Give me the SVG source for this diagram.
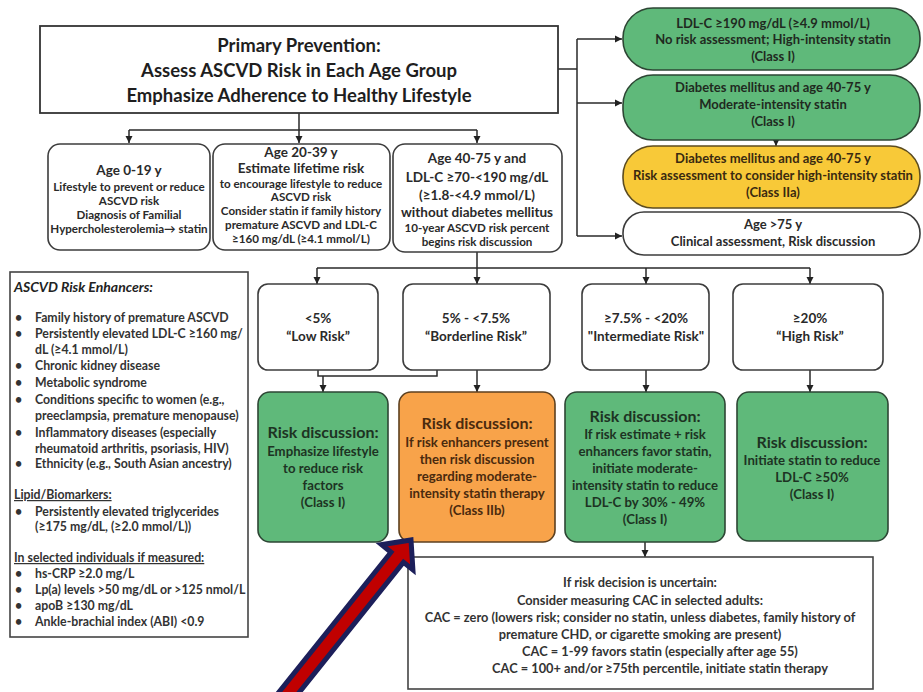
<svg xmlns="http://www.w3.org/2000/svg" width="923" height="692" viewBox="0 0 923 692">
<defs>
<marker id="ah" markerWidth="8" markerHeight="8" refX="7" refY="4" orient="auto" markerUnits="userSpaceOnUse"><path d="M0,0.5 L7,4 L0,7.5 z" fill="#222"/></marker>
<style>
.b{fill:#fff;stroke:#3c3c3c;stroke-width:1.6}
.g{fill:#5fb97a;stroke:#2d4634;stroke-width:1.6}
.o{fill:#f8a34a;stroke:#5c4020;stroke-width:1.6}
.y{fill:#f8c938;stroke:#5c4c20;stroke-width:1.6}
.c{fill:none;stroke:#2a2a2a;stroke-width:1.5}
text{font-family:Lato,"Liberation Sans",sans-serif;font-weight:bold;fill:#2a2a2a;text-anchor:middle}
.ttl{font-size:18.5px;fill:#1e1e1e}
.p{font-size:13px;fill:#1f2a1f}
.h{font-size:13.5px}
.s{font-size:11.6px}
.r{font-size:13.5px}
.rh{font-size:16px;fill:#1d3323}
.rb{font-size:13.2px;fill:#1d3323}
.ob{fill:#4a2a0e}
.l{text-anchor:start;font-size:12.3px;fill:#333}
.cac{font-size:12.8px;fill:#333}
</style>
</defs>
<rect width="923" height="692" fill="#fff"/>

<g id="connectors">
<path class="c" d="M299,113 V130 M129,130 H477"/>
<path class="c" d="M129,130 V143" marker-end="url(#ah)"/>
<path class="c" d="M299,130 V143" marker-end="url(#ah)"/>
<path class="c" d="M477,130 V143" marker-end="url(#ah)"/>
<path class="c" d="M558,69 H577 M577,39 V236"/>
<path class="c" d="M577,39 H622" marker-end="url(#ah)"/>
<path class="c" d="M577,103 H622" marker-end="url(#ah)"/>
<path class="c" d="M577,236 H622" marker-end="url(#ah)"/>
<path class="c" d="M776,140 V146" marker-end="url(#ah)"/>
<path class="c" d="M477,252 V268 M317,268 H810"/>
<path class="c" d="M317,268 V284" marker-end="url(#ah)"/>
<path class="c" d="M477,268 V284" marker-end="url(#ah)"/>
<path class="c" d="M646,268 V284" marker-end="url(#ah)"/>
<path class="c" d="M810,268 V284" marker-end="url(#ah)"/>
<path class="c" d="M318,370 V376 H437 V370"/>
<path class="c" d="M323,376 V392" marker-end="url(#ah)"/>
<path class="c" d="M477,370 V392" marker-end="url(#ah)"/>
<path class="c" d="M646,370 V392" marker-end="url(#ah)"/>
<path class="c" d="M810,370 V392" marker-end="url(#ah)"/>
<path class="c" d="M645,542 V557" marker-end="url(#ah)"/>
</g>

<g id="title">
<rect x="40" y="26" width="518" height="87" fill="#fff" stroke="#333" stroke-width="1.8"/>
<text class="ttl" x="299" y="52">Primary Prevention:</text>
<text class="ttl" x="299" y="77">Assess ASCVD Risk in Each Age Group</text>
<text class="ttl" x="299" y="102">Emphasize Adherence to Healthy Lifestyle</text>
</g>

<g id="pill-ldl190">
<rect class="g" x="623" y="8" width="297" height="62" rx="30"/>
<text class="p" x="773" y="28">LDL-C ≥190 mg/dL (≥4.9 mmol/L)</text>
<text class="p" x="773" y="44">No risk assessment; High-intensity statin</text>
<text class="p" x="773" y="61">(Class I)</text>
</g>
<g id="pill-diabetes">
<rect class="g" x="623" y="75" width="297" height="65" rx="30"/>
<text class="p" x="773" y="92">Diabetes mellitus and age 40-75 y</text>
<text class="p" x="773" y="109">Moderate-intensity statin</text>
<text class="p" x="773" y="126">(Class I)</text>
</g>
<g id="pill-diabetes-risk">
<rect class="y" x="623" y="146" width="297" height="62" rx="30"/>
<text class="p" x="773" y="163" style="fill:#3a2a10">Diabetes mellitus and age 40-75 y</text>
<text class="p" x="773" y="180" style="fill:#3a2a10">Risk assessment to consider high-intensity statin</text>
<text class="p" x="773" y="197" style="fill:#3a2a10">(Class IIa)</text>
</g>
<g id="pill-age75">
<rect class="b" x="623" y="212" width="297" height="43" rx="21"/>
<text class="p" x="773" y="229" style="fill:#2a2a2a">Age &gt;75 y</text>
<text class="p" x="773" y="246" style="fill:#2a2a2a">Clinical assessment, Risk discussion</text>
</g>

<g id="age-0-19">
<rect class="b" x="48" y="144" width="162" height="106" rx="12"/>
<text class="h" x="129" y="175">Age 0-19 y</text>
<text class="s" x="129" y="191">Lifestyle to prevent or reduce</text>
<text class="s" x="129" y="205">ASCVD risk</text>
<text class="s" x="129" y="219">Diagnosis of Familial</text>
<text class="s" x="129" y="233">Hypercholesterolemia→ statin</text>
</g>
<g id="age-20-39">
<rect class="b" x="213" y="144" width="177" height="106" rx="12"/>
<text class="h" x="301" y="157">Age 20-39 y</text>
<text class="h" x="301" y="173">Estimate lifetime risk</text>
<text class="s" x="301" y="188">to encourage lifestyle to reduce</text>
<text class="s" x="301" y="201">ASCVD risk</text>
<text class="s" x="301" y="215">Consider statin if family history</text>
<text class="s" x="301" y="229">premature ASCVD and LDL-C</text>
<text class="s" x="301" y="243">≥160 mg/dL (≥4.1 mmol/L)</text>
</g>
<g id="age-40-75">
<rect class="b" x="393" y="144" width="169" height="108" rx="12"/>
<text class="h" x="477" y="163">Age 40-75 y and</text>
<text class="h" x="477" y="182">LDL-C ≥70-&lt;190 mg/dL</text>
<text class="h" x="477" y="200">(≥1.8-&lt;4.9 mmol/L)</text>
<text class="h" x="477" y="217">without diabetes mellitus</text>
<text class="s" x="477" y="232">10-year ASCVD risk percent</text>
<text class="s" x="477" y="246">begins risk discussion</text>
</g>

<g id="risk-enhancers">
<rect x="10" y="272" width="238" height="365" fill="#fff" stroke="#444" stroke-width="1.6"/>
<text x="14" y="292" style="text-anchor:start;font-size:14px;font-style:italic;fill:#222">ASCVD Risk Enhancers:</text>
<text class="l" x="15" y="322">•</text><text class="l" x="35" y="322">Family history of premature ASCVD</text>
<text class="l" x="15" y="338">•</text><text class="l" x="35" y="338">Persistently elevated LDL-C ≥160 mg/</text>
<text class="l" x="35" y="354">dL (≥4.1 mmol/L)</text>
<text class="l" x="15" y="370">•</text><text class="l" x="35" y="370">Chronic kidney disease</text>
<text class="l" x="15" y="387">•</text><text class="l" x="35" y="387">Metabolic syndrome</text>
<text class="l" x="15" y="404">•</text><text class="l" x="35" y="404">Conditions specific to women (e.g.,</text>
<text class="l" x="35" y="420">preeclampsia, premature menopause)</text>
<text class="l" x="15" y="437">•</text><text class="l" x="35" y="437">Inflammatory diseases (especially</text>
<text class="l" x="35" y="453">rheumatoid arthritis, psoriasis, HIV)</text>
<text class="l" x="15" y="468">•</text><text class="l" x="35" y="468">Ethnicity (e.g., South Asian ancestry)</text>
<text class="l" x="14" y="499" text-decoration="underline">Lipid/Biomarkers:</text>
<text class="l" x="15" y="516">•</text><text class="l" x="35" y="516">Persistently elevated triglycerides</text>
<text class="l" x="35" y="531">(≥175 mg/dL, (≥2.0 mmol/L))</text>
<text class="l" x="14" y="562" text-decoration="underline">In selected individuals if measured:</text>
<text class="l" x="15" y="578">•</text><text class="l" x="35" y="578">hs-CRP ≥2.0 mg/L</text>
<text class="l" x="15" y="594">•</text><text class="l" x="35" y="594">Lp(a) levels &gt;50 mg/dL or &gt;125 nmol/L</text>
<text class="l" x="15" y="610">•</text><text class="l" x="35" y="610">apoB ≥130 mg/dL</text>
<text class="l" x="15" y="626">•</text><text class="l" x="35" y="626">Ankle-brachial index (ABI) &lt;0.9</text>
</g>

<g id="risk-low">
<rect class="b" x="258" y="284" width="120" height="86" rx="10"/>
<text class="r" x="318" y="323">&lt;5%</text>
<text class="r" x="318" y="341">“Low Risk”</text>
</g>
<g id="risk-borderline">
<rect class="b" x="403" y="284" width="147" height="86" rx="10"/>
<text class="r" x="476" y="323">5% - &lt;7.5%</text>
<text class="r" x="476" y="341">“Borderline Risk”</text>
</g>
<g id="risk-intermediate">
<rect class="b" x="582" y="284" width="127" height="86" rx="10"/>
<text class="r" x="646" y="323">≥7.5% - &lt;20%</text>
<text class="r" x="646" y="341">"Intermediate Risk"</text>
</g>
<g id="risk-high">
<rect class="b" x="733" y="284" width="150" height="86" rx="10"/>
<text class="r" x="810" y="323">≥20%</text>
<text class="r" x="810" y="341">“High Risk”</text>
</g>

<g id="disc-low">
<rect class="g" x="258" y="392" width="130" height="150" rx="12"/>
<text class="rh" x="323" y="438">Risk discussion:</text>
<text class="rb" x="323" y="456">Emphasize lifestyle</text>
<text class="rb" x="323" y="473">to reduce risk</text>
<text class="rb" x="323" y="490">factors</text>
<text class="rb" x="323" y="507">(Class I)</text>
</g>
<g id="disc-borderline">
<rect class="o" x="399" y="392" width="156" height="150" rx="12"/>
<text class="rh ob" x="477" y="429">Risk discussion:</text>
<text class="rb ob" x="477" y="447">If risk enhancers present</text>
<text class="rb ob" x="477" y="464">then risk discussion</text>
<text class="rb ob" x="477" y="481">regarding moderate-</text>
<text class="rb ob" x="477" y="498">intensity statin therapy</text>
<text class="rb ob" x="477" y="515">(Class IIb)</text>
</g>
<g id="disc-intermediate">
<rect class="g" x="565" y="392" width="160" height="150" rx="12"/>
<text class="rh" x="645" y="422">Risk discussion:</text>
<text class="rb" x="645" y="439">If risk estimate + risk</text>
<text class="rb" x="645" y="456">enhancers favor statin,</text>
<text class="rb" x="645" y="473">initiate moderate-</text>
<text class="rb" x="645" y="490">intensity statin to reduce</text>
<text class="rb" x="645" y="507">LDL-C by 30% - 49%</text>
<text class="rb" x="645" y="524">(Class I)</text>
</g>
<g id="disc-high">
<rect class="g" x="737" y="392" width="151" height="149" rx="12"/>
<text class="rh" x="812" y="448">Risk discussion:</text>
<text class="rb" x="812" y="465">Initiate statin to reduce</text>
<text class="rb" x="812" y="482">LDL-C ≥50%</text>
<text class="rb" x="812" y="499">(Class I)</text>
</g>

<g id="cac">
<rect x="408" y="557" width="465" height="132" fill="#fff" stroke="#444" stroke-width="1.6"/>
<text class="cac" x="640" y="587">If risk decision is uncertain:</text>
<text class="cac" x="640" y="605">Consider measuring CAC in selected adults:</text>
<text class="cac" x="640" y="622">CAC = zero (lowers risk; consider no statin, unless diabetes, family history of</text>
<text class="cac" x="640" y="639">premature CHD, or cigarette smoking are present)</text>
<text class="cac" x="660" y="656">CAC = 1-99 favors statin (especially after age 55)</text>
<text class="cac" x="660" y="673">CAC = 100+ and/or ≥75th percentile, initiate statin therapy</text>
</g>

<g id="red-arrow">
<polygon points="242.2,738 391,552.2 381.6,544.7 411,540 412.9,569.7 403.5,562.2 254.7,748" fill="#c00000" stroke="#1c1f5a" stroke-width="5" stroke-linejoin="miter"/>
</g>
</svg>
